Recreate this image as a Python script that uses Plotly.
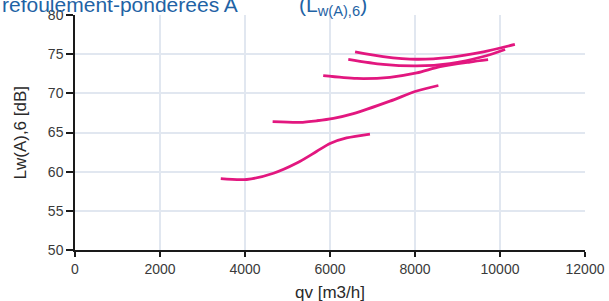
import plotly.graph_objects as go

# Airflow qv [m3/h] and A-weighted sound power Lw(A),6 [dB] for each curve
q1 = [3430, 4040, 4670, 5220, 5690, 6000, 6390, 6940]
L1 = [59.1, 59.0, 59.8, 61.1, 62.6, 63.6, 64.3, 64.8]

q2 = [4650, 5290, 5690, 6080, 6550, 7410, 8040, 8550]
L2 = [66.4, 66.3, 66.5, 66.8, 67.4, 69.0, 70.3, 71.0]

q3 = [5840, 6630, 7410, 8040, 8590, 9290, 9720]
L3 = [72.25, 71.9, 72.05, 72.6, 73.4, 74.0, 74.3]

q4 = [6430, 7250, 8040, 8820, 9610, 10120]
L4 = [74.35, 73.7, 73.5, 73.8, 74.7, 75.6]

q5 = [6590, 7250, 8040, 8820, 9610, 10350]
L5 = [75.3, 74.7, 74.35, 74.6, 75.3, 76.25]

curves = [(q1, L1), (q2, L2), (q3, L3), (q4, L4), (q5, L5)]

x_ticks = [0, 2000, 4000, 6000, 8000, 10000, 12000]
y_ticks = [50, 55, 60, 65, 70, 75, 80]

LINE = "#E2177F"
FONT = "Liberation Sans, Arial, sans-serif"

fig = go.Figure()
for q, L in curves:
    fig.add_trace(go.Scatter(x=q, y=L, mode="lines",
                             line=dict(color=LINE, width=2.8, shape="spline", smoothing=0.8),
                             showlegend=False, hoverinfo="skip", cliponaxis=False))

axis_common = dict(showline=True, linecolor="#1a1a1a", linewidth=1.5,
                   ticks="outside", tickcolor="#1a1a1a", tickwidth=1.5,
                   showgrid=True, gridcolor="#E1E7F0", gridwidth=1.5,
                   zeroline=False, automargin=False,
                   tickfont=dict(family=FONT, size=14, color="#3a3a3a"))

fig.update_xaxes(range=[0, 12000], tickvals=x_ticks, ticktext=[str(v) for v in x_ticks],
                 ticklen=5, **axis_common)
fig.update_yaxes(range=[50, 80], tickvals=y_ticks, ticktext=[str(v) for v in y_ticks],
                 ticklen=7, **axis_common)

fig.update_layout(
    width=609, height=301,
    margin=dict(l=75, r=24, t=15, b=51, autoexpand=False),
    paper_bgcolor="white", plot_bgcolor="white",
    font=dict(family=FONT),
    annotations=[
        dict(text="refoulement-pondérées A", xref="paper", yref="paper",
             x=0, y=1, xshift=-75, yshift=-3, xanchor="left", yanchor="bottom",
             showarrow=False, font=dict(family=FONT, size=21, color="#1F63A5")),
        dict(text="(L<sub>w(A),6</sub>)", xref="paper", yref="paper",
             x=0, y=1, xshift=222, yshift=-6, xanchor="left", yanchor="bottom",
             showarrow=False, font=dict(family=FONT, size=21, color="#1F63A5")),
        dict(text="Lw(A),6 [dB]", xref="paper", yref="paper",
             x=0, y=0.5, xshift=-55, xanchor="center", yanchor="middle", textangle=-90,
             showarrow=False, font=dict(family=FONT, size=17, color="#2a2a2a")),
        dict(text="qv [m3/h]", xref="paper", yref="paper",
             x=0.5, y=0, yshift=-42, xanchor="center", yanchor="middle",
             showarrow=False, font=dict(family=FONT, size=17, color="#2a2a2a")),
    ],
)

fig.write_html("out.html", config={"displayModeBar": False},
               post_script="document.body.style.margin='0';document.body.style.overflow='hidden';")
